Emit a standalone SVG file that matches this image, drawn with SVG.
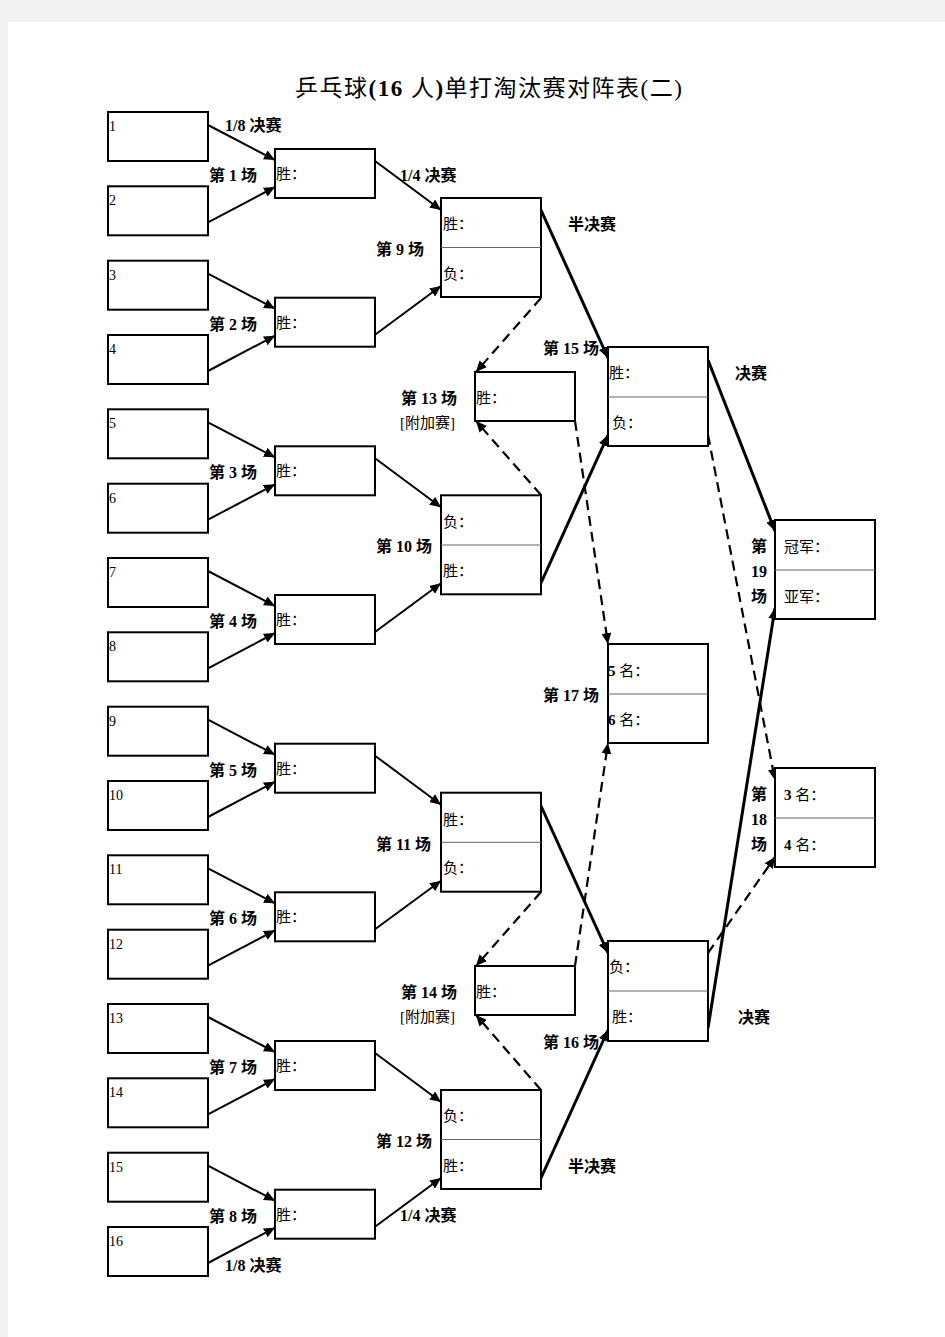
<svg xmlns="http://www.w3.org/2000/svg" width="945" height="1337" viewBox="0 0 945 1337">
<style>
.box{fill:#fff;stroke:#000;stroke-width:2}
.div{stroke:#666;stroke-width:1}
.ln{stroke:#000;stroke-width:2;fill:none}
.thick{stroke:#000;stroke-width:3;fill:none}
.dash{stroke:#000;stroke-width:2.2;fill:none;stroke-dasharray:10 6}
.num{font-family:"Liberation Serif","Noto Sans CJK SC",serif;font-size:14px;fill:#000}
.in{font-family:"Liberation Serif","Noto Sans CJK SC",serif;font-size:15px;fill:#000}
.lab{font-family:"Liberation Serif","Noto Sans CJK SC",serif;font-size:16px;font-weight:bold;fill:#000}
.sub{font-family:"Liberation Serif","Noto Sans CJK SC",serif;font-size:15px;fill:#000}
.title{font-family:"Liberation Serif","Noto Sans CJK SC",serif;font-size:23px;fill:#000;letter-spacing:1.5px}
.b{font-weight:bold}
</style>
<defs>
<marker id="ah" markerUnits="userSpaceOnUse" markerWidth="12" markerHeight="10" refX="11" refY="5" orient="auto">
<path d="M0,0 L11,5 L0,10 Z" fill="#000"/>
</marker>
</defs>
<rect x="0" y="0" width="945" height="1337" fill="#f3f3f3"/>
<rect x="8" y="22" width="937" height="1315" fill="#fff"/>
<text class="title" x="295" y="96">乒乓球<tspan class="b">(16</tspan> 人<tspan class="b">)</tspan>单打淘汰赛对阵表(二)</text>

<g id="connectors">
<line class="ln" x1="208" y1="125" x2="275" y2="160" marker-end="url(#ah)"/>
<line class="ln" x1="208" y1="222.3" x2="275" y2="187" marker-end="url(#ah)"/>
<line class="ln" x1="208" y1="273.7" x2="275" y2="308.7" marker-end="url(#ah)"/>
<line class="ln" x1="208" y1="371" x2="275" y2="335.7" marker-end="url(#ah)"/>
<line class="ln" x1="208" y1="422.3" x2="275" y2="457.3" marker-end="url(#ah)"/>
<line class="ln" x1="208" y1="519.7" x2="275" y2="484.3" marker-end="url(#ah)"/>
<line class="ln" x1="208" y1="571" x2="275" y2="606" marker-end="url(#ah)"/>
<line class="ln" x1="208" y1="668.3" x2="275" y2="633" marker-end="url(#ah)"/>
<line class="ln" x1="208" y1="719.7" x2="275" y2="754.7" marker-end="url(#ah)"/>
<line class="ln" x1="208" y1="817" x2="275" y2="781.7" marker-end="url(#ah)"/>
<line class="ln" x1="208" y1="868.3" x2="275" y2="903.3" marker-end="url(#ah)"/>
<line class="ln" x1="208" y1="965.7" x2="275" y2="930.3" marker-end="url(#ah)"/>
<line class="ln" x1="208" y1="1017" x2="275" y2="1052" marker-end="url(#ah)"/>
<line class="ln" x1="208" y1="1114.3" x2="275" y2="1079" marker-end="url(#ah)"/>
<line class="ln" x1="208" y1="1165.7" x2="275" y2="1200.7" marker-end="url(#ah)"/>
<line class="ln" x1="208" y1="1263" x2="275" y2="1227.7" marker-end="url(#ah)"/>
<line class="ln" x1="375" y1="161" x2="441" y2="210" marker-end="url(#ah)"/>
<line class="ln" x1="375" y1="334.7" x2="441" y2="286" marker-end="url(#ah)"/>
<line class="ln" x1="375" y1="458.3" x2="441" y2="507.3" marker-end="url(#ah)"/>
<line class="ln" x1="375" y1="632" x2="441" y2="583.3" marker-end="url(#ah)"/>
<line class="ln" x1="375" y1="755.7" x2="441" y2="804.7" marker-end="url(#ah)"/>
<line class="ln" x1="375" y1="929.3" x2="441" y2="880.7" marker-end="url(#ah)"/>
<line class="ln" x1="375" y1="1053" x2="441" y2="1102" marker-end="url(#ah)"/>
<line class="ln" x1="375" y1="1226.7" x2="441" y2="1178" marker-end="url(#ah)"/>
<line class="thick" x1="541" y1="210" x2="608" y2="358" marker-end="url(#ah)"/>
<line class="thick" x1="541" y1="583" x2="608" y2="435" marker-end="url(#ah)"/>
<line class="thick" x1="541" y1="806" x2="608" y2="953" marker-end="url(#ah)"/>
<line class="thick" x1="541" y1="1178" x2="608" y2="1030" marker-end="url(#ah)"/>
<line class="dash" x1="541" y1="298" x2="476" y2="372" marker-end="url(#ah)"/>
<line class="dash" x1="541" y1="495" x2="476" y2="421" marker-end="url(#ah)"/>
<line class="dash" x1="541" y1="892" x2="476" y2="966" marker-end="url(#ah)"/>
<line class="dash" x1="541" y1="1090" x2="476" y2="1015" marker-end="url(#ah)"/>
<line class="dash" x1="575" y1="421" x2="608" y2="644" marker-end="url(#ah)"/>
<line class="dash" x1="575" y1="966" x2="608" y2="743" marker-end="url(#ah)"/>
<line class="thick" x1="708" y1="360" x2="775" y2="531" marker-end="url(#ah)"/>
<line class="thick" x1="708" y1="1028" x2="775" y2="608" marker-end="url(#ah)"/>
<line class="dash" x1="708" y1="435" x2="775" y2="780" marker-end="url(#ah)"/>
<line class="dash" x1="708" y1="953" x2="775" y2="857" marker-end="url(#ah)"/>
</g>

<g id="players">
<g id="p1"><rect class="box" x="108" y="112" width="100" height="49"/><text class="num" x="109" y="131">1</text></g>
<g id="p2"><rect class="box" x="108" y="186.3" width="100" height="49"/><text class="num" x="109" y="205.3">2</text></g>
<g id="p3"><rect class="box" x="108" y="260.7" width="100" height="49"/><text class="num" x="109" y="279.7">3</text></g>
<g id="p4"><rect class="box" x="108" y="335" width="100" height="49"/><text class="num" x="109" y="354">4</text></g>
<g id="p5"><rect class="box" x="108" y="409.3" width="100" height="49"/><text class="num" x="109" y="428.3">5</text></g>
<g id="p6"><rect class="box" x="108" y="483.7" width="100" height="49"/><text class="num" x="109" y="502.7">6</text></g>
<g id="p7"><rect class="box" x="108" y="558" width="100" height="49"/><text class="num" x="109" y="577">7</text></g>
<g id="p8"><rect class="box" x="108" y="632.3" width="100" height="49"/><text class="num" x="109" y="651.3">8</text></g>
<g id="p9"><rect class="box" x="108" y="706.7" width="100" height="49"/><text class="num" x="109" y="725.7">9</text></g>
<g id="p10"><rect class="box" x="108" y="781" width="100" height="49"/><text class="num" x="109" y="800">10</text></g>
<g id="p11"><rect class="box" x="108" y="855.3" width="100" height="49"/><text class="num" x="109" y="874.3">11</text></g>
<g id="p12"><rect class="box" x="108" y="929.7" width="100" height="49"/><text class="num" x="109" y="948.7">12</text></g>
<g id="p13"><rect class="box" x="108" y="1004" width="100" height="49"/><text class="num" x="109" y="1023">13</text></g>
<g id="p14"><rect class="box" x="108" y="1078.3" width="100" height="49"/><text class="num" x="109" y="1097.3">14</text></g>
<g id="p15"><rect class="box" x="108" y="1152.7" width="100" height="49"/><text class="num" x="109" y="1171.7">15</text></g>
<g id="p16"><rect class="box" x="108" y="1227" width="100" height="49"/><text class="num" x="109" y="1246">16</text></g>
</g>

<g id="round1">
<g id="g1"><rect class="box" x="275" y="149" width="100" height="49"/><text class="in" x="276" y="179">胜：</text><text class="lab" x="209" y="181">第 1 场</text></g>
<g id="g2"><rect class="box" x="275" y="297.7" width="100" height="49"/><text class="in" x="276" y="327.7">胜：</text><text class="lab" x="209" y="329.7">第 2 场</text></g>
<g id="g3"><rect class="box" x="275" y="446.3" width="100" height="49"/><text class="in" x="276" y="476.3">胜：</text><text class="lab" x="209" y="478.3">第 3 场</text></g>
<g id="g4"><rect class="box" x="275" y="595" width="100" height="49"/><text class="in" x="276" y="625">胜：</text><text class="lab" x="209" y="627">第 4 场</text></g>
<g id="g5"><rect class="box" x="275" y="743.7" width="100" height="49"/><text class="in" x="276" y="773.7">胜：</text><text class="lab" x="209" y="775.7">第 5 场</text></g>
<g id="g6"><rect class="box" x="275" y="892.3" width="100" height="49"/><text class="in" x="276" y="922.3">胜：</text><text class="lab" x="209" y="924.3">第 6 场</text></g>
<g id="g7"><rect class="box" x="275" y="1041" width="100" height="49"/><text class="in" x="276" y="1071">胜：</text><text class="lab" x="209" y="1073">第 7 场</text></g>
<g id="g8"><rect class="box" x="275" y="1189.7" width="100" height="49"/><text class="in" x="276" y="1219.7">胜：</text><text class="lab" x="209" y="1221.7">第 8 场</text></g>
</g>

<g id="round2">
<g id="g9"><rect class="box" x="441" y="198" width="100" height="99"/><line class="div" x1="441" y1="247.5" x2="541" y2="247.5"/><text class="in" x="443" y="229">胜：</text><text class="in" x="443" y="279">负：</text><text class="lab" x="376" y="255">第 9 场</text></g>
<g id="g10"><rect class="box" x="441" y="495.3" width="100" height="99"/><line class="div" x1="441" y1="545" x2="541" y2="545"/><text class="in" x="443" y="527">负：</text><text class="in" x="443" y="576">胜：</text><text class="lab" x="376" y="552">第 10 场</text></g>
<g id="g11"><rect class="box" x="441" y="792.7" width="100" height="99"/><line class="div" x1="441" y1="842.3" x2="541" y2="842.3"/><text class="in" x="443" y="825">胜：</text><text class="in" x="443" y="873">负：</text><text class="lab" x="376" y="850">第 11 场</text></g>
<g id="g12"><rect class="box" x="441" y="1090" width="100" height="99"/><line class="div" x1="441" y1="1139.5" x2="541" y2="1139.5"/><text class="in" x="443" y="1121">负：</text><text class="in" x="443" y="1171">胜：</text><text class="lab" x="376" y="1147">第 12 场</text></g>
</g>

<g id="repechage">
<g id="g13"><rect class="box" x="475" y="372" width="100" height="49"/><text class="in" x="476" y="403">胜：</text><text class="lab" x="401" y="404">第 13 场</text><text class="sub" x="400" y="428">[附加赛]</text></g>
<g id="g14"><rect class="box" x="475" y="966" width="100" height="49"/><text class="in" x="476" y="997">胜：</text><text class="lab" x="401" y="998">第 14 场</text><text class="sub" x="400" y="1022">[附加赛]</text></g>
</g>

<g id="semis">
<g id="g15"><rect class="box" x="608" y="347" width="100" height="99"/><line class="div" x1="608" y1="397" x2="708" y2="397"/><text class="in" x="609" y="378">胜：</text><text class="in" x="612" y="428">负：</text><text class="lab" x="543" y="354">第 15 场</text></g>
<g id="g16"><rect class="box" x="608" y="941" width="100" height="100"/><line class="div" x1="608" y1="991" x2="708" y2="991"/><text class="in" x="609" y="972">负：</text><text class="in" x="612" y="1022">胜：</text><text class="lab" x="543" y="1048">第 16 场</text></g>
<g id="g17"><rect class="box" x="608" y="644" width="100" height="99"/><line class="div" x1="608" y1="694" x2="708" y2="694"/><text class="in" x="608" y="676"><tspan class="b">5</tspan> 名：</text><text class="in" x="608" y="725"><tspan class="b">6</tspan> 名：</text><text class="lab" x="543" y="701">第 17 场</text></g>
</g>

<g id="finals">
<g id="g19"><rect class="box" x="775" y="520" width="100" height="99"/><line class="div" x1="775" y1="570" x2="875" y2="570"/><text class="in" x="784" y="552">冠军：</text><text class="in" x="784" y="602">亚军：</text><text class="lab" x="759" y="552" text-anchor="middle">第</text><text class="lab" x="759" y="577" text-anchor="middle">19</text><text class="lab" x="759" y="602" text-anchor="middle">场</text></g>
<g id="g18"><rect class="box" x="775" y="768" width="100" height="99"/><line class="div" x1="775" y1="818" x2="875" y2="818"/><text class="in" x="784" y="800"><tspan class="b">3</tspan> 名：</text><text class="in" x="784" y="850"><tspan class="b">4</tspan> 名：</text><text class="lab" x="759" y="800" text-anchor="middle">第</text><text class="lab" x="759" y="825" text-anchor="middle">18</text><text class="lab" x="759" y="850" text-anchor="middle">场</text></g>
</g>

<g id="stage-labels">
<text class="lab" x="225" y="131">1/8 决赛</text>
<text class="lab" x="400" y="181">1/4 决赛</text>
<text class="lab" x="568" y="230">半决赛</text>
<text class="lab" x="735" y="379">决赛</text>
<text class="lab" x="738" y="1023">决赛</text>
<text class="lab" x="568" y="1172">半决赛</text>
<text class="lab" x="400" y="1221">1/4 决赛</text>
<text class="lab" x="225" y="1271">1/8 决赛</text>
</g>
</svg>
